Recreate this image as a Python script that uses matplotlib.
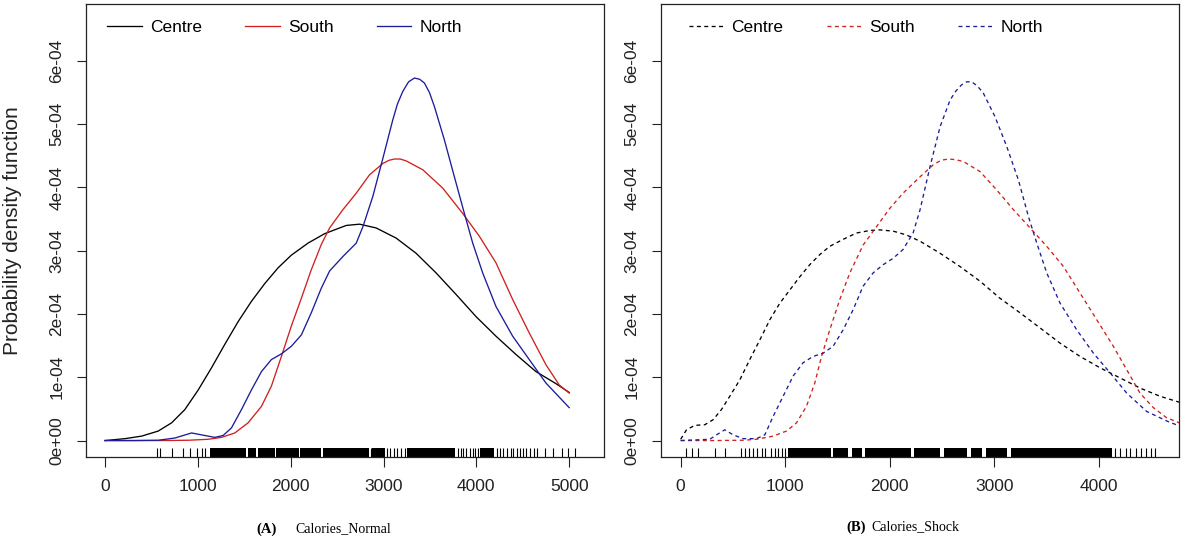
import numpy as np
import matplotlib
matplotlib.use("Agg")
import matplotlib.pyplot as plt
from matplotlib.lines import Line2D

plt.rcParams["font.family"] = ["Liberation Sans", "DejaVu Sans"]

# density curves, y in units of 1e-04
# (A) Calories_Normal
a_centre_x = [0, 215, 394, 573, 717, 860, 1004, 1147, 1290, 1434, 1577, 1720, 1864, 2007,
              2186, 2366, 2473, 2599, 2742, 2921, 3136, 3351, 3566, 3781, 3996, 4211,
              4427, 4642, 4857, 5000]
a_centre_y = [0, 0.03, 0.07, 0.15, 0.28, 0.49, 0.80, 1.15, 1.52, 1.88, 2.20, 2.48, 2.73, 2.93,
              3.12, 3.27, 3.33, 3.40, 3.42, 3.36, 3.20, 2.96, 2.65, 2.31, 1.96, 1.65,
              1.36, 1.09, 0.90, 0.76]
a_south_x = [0, 600, 900, 1111, 1254, 1398, 1541, 1685, 1792, 1900, 2007, 2115, 2222, 2330,
             2419, 2563, 2706, 2849, 2993, 3060, 3118, 3180, 3244, 3423, 3638, 3853, 4032,
             4211, 4391, 4570, 4749, 4892, 5000]
a_south_y = [0, 0, 0.005, 0.02, 0.05, 0.12, 0.28, 0.54, 0.86, 1.33, 1.81, 2.25, 2.70, 3.10,
             3.36, 3.65, 3.91, 4.20, 4.38, 4.43, 4.45, 4.45, 4.42, 4.28, 3.99, 3.59, 3.23,
             2.81, 2.23, 1.70, 1.20, 0.88, 0.75]
a_north_x = [0, 300, 573, 753, 932, 1039, 1183, 1272, 1362, 1470, 1577, 1685, 1792, 1900,
             2007, 2115, 2222, 2330, 2419, 2563, 2706, 2778, 2885, 2993, 3100, 3150, 3208,
             3270, 3333, 3390, 3441, 3495, 3548, 3656, 3763, 3871, 3961, 4068, 4211, 4391,
             4570, 4749, 5000]
a_north_y = [0, 0, 0.005, 0.04, 0.12, 0.09, 0.05, 0.08, 0.20, 0.49, 0.80, 1.09, 1.28, 1.37,
             1.49, 1.67, 2.02, 2.41, 2.68, 2.91, 3.12, 3.38, 3.86, 4.46, 5.07, 5.32, 5.52,
             5.67, 5.73, 5.71, 5.65, 5.50, 5.28, 4.75, 4.17, 3.59, 3.12, 2.65, 2.12, 1.65,
             1.28, 0.91, 0.52]

# (B) Calories_Shock
b_centre_x = [0, 56, 135, 231, 311, 390, 470, 566, 661, 757, 853, 948, 1044, 1140, 1235,
              1331, 1426, 1554, 1681, 1809, 1904, 2032, 2159, 2290, 2481, 2672, 2862, 3053,
              3245, 3437, 3628, 3819, 4011, 4202, 4393, 4585, 4800]
b_centre_y = [0.02, 0.17, 0.24, 0.25, 0.33, 0.49, 0.70, 0.96, 1.28, 1.59, 1.91, 2.17, 2.38,
              2.59, 2.78, 2.94, 3.07, 3.18, 3.28, 3.32, 3.33, 3.31, 3.25, 3.15, 2.96, 2.75,
              2.52, 2.25, 2.02, 1.78, 1.54, 1.33, 1.15, 0.99, 0.83, 0.70, 0.59]
b_south_x = [0, 300, 600, 725, 884, 1012, 1108, 1203, 1283, 1347, 1426, 1522, 1618, 1745,
             1873, 2000, 2127, 2290, 2417, 2490, 2561, 2630, 2704, 2864, 3023, 3182, 3342,
             3501, 3661, 3820, 3979, 4138, 4266, 4393, 4521, 4648, 4800]
b_south_y = [0, 0, 0.005, 0.02, 0.07, 0.15, 0.28, 0.54, 0.91, 1.33, 1.75, 2.23, 2.65, 3.09,
             3.38, 3.67, 3.91, 4.17, 4.36, 4.43, 4.45, 4.44, 4.41, 4.25, 3.96, 3.65, 3.36,
             3.07, 2.75, 2.33, 1.91, 1.49, 1.12, 0.75, 0.52, 0.36, 0.26]
b_north_x = [0, 279, 343, 422, 502, 598, 725, 805, 884, 980, 1076, 1171, 1267, 1362, 1458,
             1554, 1650, 1745, 1841, 1937, 2032, 2127, 2223, 2290, 2385, 2481, 2576, 2630,
             2685, 2735, 2784, 2840, 2895, 3006, 3118, 3230, 3326, 3406, 3501, 3629, 3788,
             3948, 4107, 4266, 4457, 4648, 4800]
b_north_y = [0, 0.02, 0.09, 0.17, 0.09, 0.03, 0.03, 0.09, 0.38, 0.70, 1.02, 1.23, 1.33, 1.38,
             1.49, 1.75, 2.07, 2.44, 2.65, 2.78, 2.88, 3.02, 3.28, 3.65, 4.33, 4.96, 5.38,
             5.52, 5.62, 5.67, 5.67, 5.60, 5.49, 5.12, 4.65, 4.12, 3.54, 3.12, 2.65, 2.17,
             1.75, 1.38, 1.07, 0.75, 0.46, 0.31, 0.21]

# rug: single observations and runs too dense to separate
a_rug = [565, 590, 720, 845, 915, 990, 1040, 1080, 2860, 3040, 3075, 3110, 3150, 3190, 3230,
         3800, 3830, 3860, 3890, 3930, 3960, 3990, 4020, 4225, 4260, 4290, 4330, 4370, 4400,
         4440, 4470, 4500, 4540, 4580, 4620, 4650, 4740, 4830, 4920, 4990, 5060]
a_rug_runs = [(1130, 1520), (1535, 1630), (1645, 1830), (1845, 2090), (2105, 2330),
              (2345, 2840), (2875, 3020), (3250, 3770), (4040, 4190)]
b_rug = [50, 110, 170, 330, 420, 580, 620, 650, 690, 730, 780, 810, 865, 900, 935, 970,
         1000, 4150, 4200, 4260, 4300, 4350, 4400, 4450, 4500, 4540]
b_rug_runs = [(1030, 1440), (1460, 1600), (1635, 1730), (1765, 2200), (2230, 2480),
              (2520, 2740), (2780, 2880), (2920, 3120), (3160, 4130)]

groups = ["Centre", "South", "North"]
colors = ["black", "#d02020", "#1c1c9c"]
yticks = [0, 1, 2, 3, 4, 5, 6]
ytick_labels = ["0e+00", "1e-04", "2e-04", "3e-04", "4e-04", "5e-04", "6e-04"]

W, H = 1182, 541
fig = plt.figure(figsize=(W / 100, H / 100), dpi=100)
axA = fig.add_axes([86 / W, 84 / H, 518 / W, 453 / H])
axB = fig.add_axes([661 / W, 84 / H, 518 / W, 453 / H])

panels = [
    (axA, [(a_centre_x, a_centre_y), (a_south_x, a_south_y), (a_north_x, a_north_y)],
     "-", a_rug, a_rug_runs, (-205, 5375), [0, 1000, 2000, 3000, 4000, 5000]),
    (axB, [(b_centre_x, b_centre_y), (b_south_x, b_south_y), (b_north_x, b_north_y)],
     (0, (3, 2.6)), b_rug, b_rug_runs, (-188, 4766), [0, 1000, 2000, 3000, 4000]),
]

for ax, curves, ls, rug, runs, xlim, xticks in panels:
    for (x, y), c in zip(curves, colors):
        ax.plot(x, np.array(y) * 1e-4, color=c, lw=0.95, ls=ls)
    trans = ax.get_xaxis_transform()
    ax.vlines(rug, 0, 0.02, transform=trans, color="black", lw=0.8)
    for s, e in runs:
        ax.axvspan(s, e, ymin=0, ymax=0.02, color="black", lw=0)
    ax.set_xlim(*xlim)
    ax.set_ylim(-0.26e-4, 6.9e-4)
    ax.set_xticks(xticks)
    ax.set_yticks(np.array(yticks) * 1e-4)
    ax.set_yticklabels(ytick_labels, rotation=90, va="center")
    ax.tick_params(axis="x", length=7, width=0.8, pad=9, labelsize=12.5,
                   colors="#222222")
    ax.tick_params(axis="y", length=6.5, width=0.8, pad=9, labelsize=12.5,
                   colors="#222222")
    for sp in ax.spines.values():
        sp.set_color("#222222")
        sp.set_linewidth(0.9)
    handles = [Line2D([], [], color=c, lw=0.95, ls=ls) for c in colors]
    ax.legend(handles, groups, ncol=3, frameon=False, fontsize=12.5,
              loc="upper left",
              bbox_to_anchor=(0.041 if ax is axA else 0.054, 0.965),
              borderaxespad=0, borderpad=0, handlelength=2.0,
              handletextpad=0.45, columnspacing=2.5)

axA.set_ylabel("Probability density function", fontsize=15, color="#222222")
axA.yaxis.set_label_coords((22 - 86) / 518, 0.5)

serif = ["Liberation Serif", "DejaVu Serif"]
fig.text(256 / W, 1 - 529 / H, "(A)", family=serif, fontweight="bold", fontsize=10.5,
         va="center", ha="left")
fig.text(295 / W, 1 - 529 / H, "Calories_Normal", family=serif, fontsize=10,
         va="center", ha="left")
fig.text(846 / W, 1 - 527 / H, "(B)", family=serif, fontweight="bold", fontsize=10.5,
         va="center", ha="left")
fig.text(871 / W, 1 - 527 / H, "Calories_Shock", family=serif, fontsize=10,
         va="center", ha="left")

fig.savefig("out.png", dpi=100)
